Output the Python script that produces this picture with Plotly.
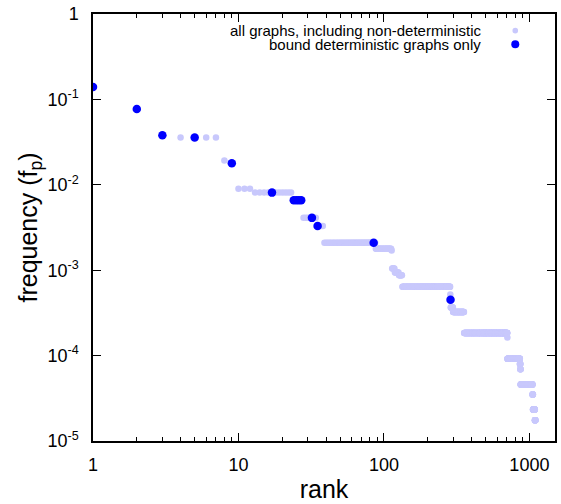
import plotly.graph_objects as go
import numpy as np

# ---- data ----
# All graphs: run-length encoded plateaus of the rank/frequency curve
all_start = [1, 2, 3, 4, 8, 9, 10, 13, 24, 28, 35, 39, 88, 113, 114, 119, 127, 134,
             286, 287, 288, 299, 356, 706, 707, 861, 867, 871, 1051, 1059, 1091]
all_end   = [1, 2, 3, 7, 8, 9, 12, 23, 27, 34, 38, 87, 112, 113, 118, 126, 133, 285,
             286, 287, 298, 355, 705, 706, 860, 866, 870, 1050, 1058, 1090, 1100]
all_freq  = [0.14, 0.077, 0.038, 0.0357, 0.0192, 0.0179, 0.0090, 0.0081, 0.0066,
             0.0041, 0.0033, 0.00209, 0.00178, 0.0017, 0.00105, 0.00094, 0.00087,
             0.00064, 0.00052, 0.00045, 0.000365, 0.000323, 0.000184, 0.000163,
             9.2e-5, 8.0e-5, 6.9e-5, 4.6e-5, 3.5e-5, 2.34e-5, 1.75e-5]

# Bound deterministic graphs only
det_rank = [1, 2, 3, 5, 9, 17, 24, 25, 26, 27, 32, 35, 85, 287]
det_freq = [0.14, 0.077, 0.038, 0.0357, 0.0179, 0.0081, 0.0066, 0.0066, 0.0066,
            0.0066, 0.0041, 0.0033, 0.00209, 0.00045]

x_ticks = [1, 10, 100, 1000]
x_ticktext = ["1", "10", "100", "1000"]
y_ticks = [1, 0.1, 0.01, 0.001, 0.0001, 0.00001]
y_ticktext = ["1", "10<sup>-1</sup>", "10<sup>-2</sup>", "10<sup>-3</sup>",
              "10<sup>-4</sup>", "10<sup>-5</sup>"]
legend_labels = ["all graphs, including non-deterministic",
                 "bound deterministic graphs only"]

# expand the run-length plateaus
all_rank, all_f = [], []
for s, e, f in zip(all_start, all_end, all_freq):
    for r in range(s, e + 1):
        all_rank.append(r)
        all_f.append(f)

LIGHT = "rgb(200,200,252)"
BLUE = "rgb(0,0,255)"
FONT = "Liberation Sans, Arial, Helvetica, sans-serif"

fig = go.Figure()
fig.add_trace(go.Scatter(x=all_rank, y=all_f, mode="markers",
                         marker=dict(color=LIGHT, size=6.5, line=dict(width=0)),
                         name=legend_labels[0], showlegend=False))
fig.add_trace(go.Scatter(x=det_rank, y=det_freq, mode="markers",
                         marker=dict(color=BLUE, size=8.5, line=dict(width=0)),
                         name=legend_labels[1], showlegend=False))

minor_x = [m * 10 ** k for k in range(0, 4) for m in range(2, 10) if m * 10 ** k < 1500]

fig.update_xaxes(type="log", range=[0, np.log10(1500)],
                 tickmode="array", tickvals=x_ticks, ticktext=x_ticktext,
                 ticks="inside", ticklen=8, tickwidth=1.2, tickcolor="black",
                 minor=dict(tickmode="array", tickvals=minor_x, ticks="inside",
                            ticklen=4, tickwidth=1, tickcolor="black", showgrid=False),
                 showline=True, linecolor="black", linewidth=1.5, mirror="ticks",
                 showgrid=False, zeroline=False,
                 tickfont=dict(family=FONT, size=18, color="black"),
                 ticklabelstandoff=7,
                 title=dict(text="rank", font=dict(family=FONT, size=25, color="black"),
                            standoff=6))
fig.update_yaxes(type="log", range=[-5, 0],
                 tickmode="array", tickvals=y_ticks, ticktext=y_ticktext,
                 ticks="inside", ticklen=8, tickwidth=1.2, tickcolor="black",
                 showline=True, linecolor="black", linewidth=1.5, mirror="ticks",
                 showgrid=False, zeroline=False,
                 tickfont=dict(family=FONT, size=18, color="black"),
                 ticklabelstandoff=9,
                 title=dict(text="frequency (f<sub>p</sub>)",
                            font=dict(family=FONT, size=25, color="black"),
                            standoff=3))

# legend drawn gnuplot-style (text right-aligned, symbol on the right)
leg_y = [0.961, 0.929]
leg_col = [LIGHT, BLUE]
leg_r = [2.8, 4]
for lab, yy, col, rr in zip(legend_labels, leg_y, leg_col, leg_r):
    fig.add_annotation(x=0.845, y=yy, xref="paper", yref="paper", text=lab,
                       showarrow=False, xanchor="right", yanchor="middle",
                       font=dict(family=FONT, size=15, color="black"))
    fig.add_shape(type="circle", xref="paper", yref="paper",
                  xsizemode="pixel", ysizemode="pixel",
                  xanchor=0.914, yanchor=yy, x0=-rr, x1=rr, y0=-rr, y1=rr,
                  fillcolor=col, line=dict(width=0))

fig.update_layout(width=561, height=504, plot_bgcolor="white", paper_bgcolor="white",
                  margin=dict(l=93, r=4, t=14, b=63), showlegend=False)

fig.write_html("out.html")
